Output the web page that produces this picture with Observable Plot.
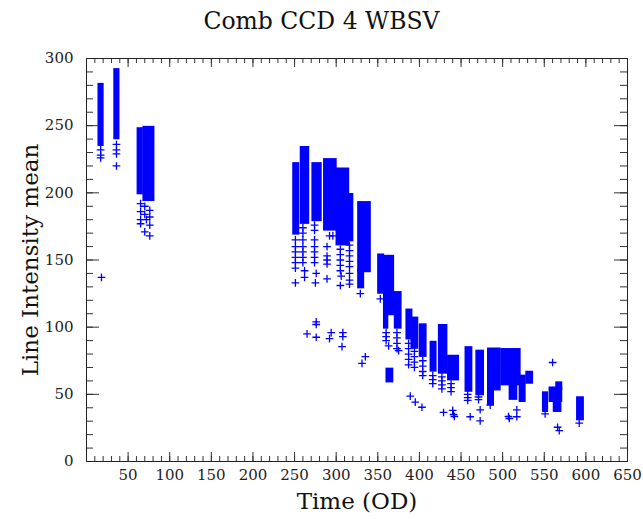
<!DOCTYPE html>
<html>
<head>
<meta charset="utf-8">
<script src="https://cdn.jsdelivr.net/npm/d3@7"></script>
<script src="https://cdn.jsdelivr.net/npm/@observablehq/plot@0.6"></script>
<style>
  html, body { margin: 0; padding: 0; background: #fff; }
  #title { width: 643px; height: 40px; line-height: 42px; text-align: center;
           font-family: "DejaVu Serif", serif; font-size: 23.5px; color: #111; }
</style>
</head>
<body>
<div id="title"></div>
<div id="chart"></div>
<script>
const titleText = "Comb CCD 4 WBSV";
const xLabel = "Time (OD)";
const yLabel = "Line Intensity mean";
const xTickLabels = [50, 100, 150, 200, 250, 300, 350, 400, 450, 500, 550, 600, 650];
const yTickLabels = [0, 50, 100, 150, 200, 250, 300];
const xMinorTicks = d3.range(0, 651, 10);
const yMinorTicks = d3.range(0, 301, 10);
const xMajorTicks = [0, ...xTickLabels];

// Dense clusters of observations (day range, value range)
const blockStart = [15, 34, 62, 69, 249, 258, 272, 286, 301, 313, 327, 327, 351, 358, 358, 361, 371, 385, 391, 401, 414, 424, 435, 456, 469, 483, 483, 499, 509, 521, 529, 549, 557, 565, 562, 590];
const blockEnd   = [20, 39, 67, 81, 255, 267, 282, 300, 315, 320, 341, 333, 357, 369, 362, 368, 378, 391, 398, 408, 420, 433, 447, 463, 477, 497, 489, 521, 517, 527, 536, 554, 571, 571, 570, 597];
const blockLow   = [236, 241, 200, 195, 170, 178, 180, 173, 162, 165, 142, 130, 126, 110, 100, 60, 100, 92, 85, 79, 68, 66.5, 61.5, 53, 50.4, 54, 43, 57.8, 47, 45.4, 59, 38, 45.4, 54, 38, 31.8];
const blockHigh  = [280, 291, 247, 248, 221, 233, 221, 224, 217, 198, 192, 142, 153, 152, 110, 68, 125, 112, 106, 101, 88, 100.5, 77.6, 84, 81.4, 83, 54, 82.6, 57.8, 62.8, 65.7, 50.4, 54, 57.8, 45.4, 46.7];

// Individual scattered observations
const pointDay = [17, 17, 17, 18, 36, 36, 36, 36,
  65, 65, 65, 65, 70, 70, 70, 76, 76, 76, 76, 72,
  251, 251, 251, 251, 251, 251, 251,
  260, 260, 260, 260, 260, 260, 260, 262, 262, 265,
  274, 274, 274, 274, 274, 274, 274, 276, 275, 276, 276, 276,
  292, 296, 289, 289, 289, 289, 289, 294, 292,
  305, 305, 305, 305, 305, 306, 305, 308, 308, 307,
  316, 316, 316, 316, 316, 316, 316, 316,
  329, 335, 331,
  353, 360, 360, 360, 363,
  373, 373, 373, 373, 375,
  387, 387, 387, 387, 387, 389,
  394, 394, 394, 394, 395,
  404, 404, 404, 404, 403,
  416, 416, 416,
  427, 427, 427, 427, 429,
  438, 438, 438, 440, 441, 442,
  458, 458, 458, 461,
  471, 471, 473, 473,
  485, 507, 508, 517, 517,
  551, 560, 566, 568, 592];
const pointValue = [232, 228, 226, 137, 236, 232, 229, 220,
  192, 186, 180, 177, 190, 184, 171, 187, 182, 176, 168, 180,
  165, 160, 156, 152, 148, 144, 133,
  174, 170, 165, 160, 156, 152, 148, 142, 137, 95,
  176, 172, 165, 160, 156, 152, 148, 140, 133, 104, 102, 92.5,
  168, 168, 160, 153, 150, 147, 136, 96, 91.5,
  158, 154, 150, 146, 142, 138, 131, 96, 93, 85.5,
  161, 157, 153, 149, 145, 140, 135, 132,
  125, 78, 73,
  121, 96, 93, 90, 86,
  96, 92, 88, 84, 82.6,
  88, 84, 80, 76, 72, 48.6,
  82, 78, 74, 70, 44.2,
  75, 71, 67, 64, 40.4,
  64, 61, 58,
  63, 60, 57, 54, 36.5,
  58, 55, 52, 38, 35, 33.5,
  50, 47.5, 45.5, 33.3,
  48, 46, 38.5, 30.3,
  42, 33.5, 32, 33.3, 38.5,
  35.5, 73.7, 25.5, 23, 28.5];

const blocks = blockStart.map((s, i) => ({x1: s, x2: blockEnd[i], y1: blockLow[i], y2: blockHigh[i]}));
const points = pointDay.map((d, i) => ({day: d, value: pointValue[i]}));

document.getElementById("title").textContent = titleText;

const W = 643, H = 479, mt = 18, mb = 58, ml = 86, mr = 16;
const fw = W - ml - mr, fh = H - mt - mb;
const blue = "#0000ff";

const chart = Plot.plot({
  width: W, height: H,
  marginTop: mt, marginBottom: mb, marginLeft: ml, marginRight: mr,
  style: {fontFamily: "DejaVu Serif, serif", fontSize: "15px", background: "#fff", color: "#222"},
  x: {domain: [0, 650]},
  y: {domain: [0, 300]},
  marks: [
    Plot.rect(blocks, {x1: "x1", x2: "x2", y1: "y1", y2: "y2", fill: blue,
      insetLeft: -1, insetRight: -1, insetTop: -2, insetBottom: -2}),
    Plot.dot(points, {x: "day", y: "value", symbol: "plus", r: 2.6, stroke: blue, strokeWidth: 1.3}),
    // inward ticks, bottom & top
    Plot.tickX(xMinorTicks, {x: d => d, insetTop: fh - 5, stroke: "#333"}),
    Plot.tickX(xMajorTicks, {x: d => d, insetTop: fh - 9, stroke: "#333"}),
    Plot.tickX(xMinorTicks, {x: d => d, insetBottom: fh - 5, stroke: "#333"}),
    Plot.tickX(xMajorTicks, {x: d => d, insetBottom: fh - 9, stroke: "#333"}),
    // inward ticks, left & right
    Plot.tickY(yMinorTicks, {y: d => d, insetRight: fw - 7, stroke: "#333"}),
    Plot.tickY(yTickLabels, {y: d => d, insetRight: fw - 13, stroke: "#333"}),
    Plot.tickY(yMinorTicks, {y: d => d, insetLeft: fw - 7, stroke: "#333"}),
    Plot.tickY(yTickLabels, {y: d => d, insetLeft: fw - 13, stroke: "#333"}),
    Plot.frame({stroke: "#222"}),
    Plot.axisX({ticks: xTickLabels, tickSize: 0, tickPadding: 8, label: null, fontSize: 15}),
    Plot.axisY({ticks: yTickLabels, tickSize: 0, tickPadding: 13, label: null, fontSize: 15}),
    Plot.text([xLabel], {text: d => d, frameAnchor: "bottom", textAnchor: "middle", dy: 47, fontSize: 23, fill: "#111"}),
    Plot.text([yLabel], {text: d => d, frameAnchor: "left", textAnchor: "middle", dx: -56, rotate: -90, fontSize: 23, fill: "#111"})
  ]
});
document.getElementById("chart").appendChild(chart);
</script>
</body>
</html>
